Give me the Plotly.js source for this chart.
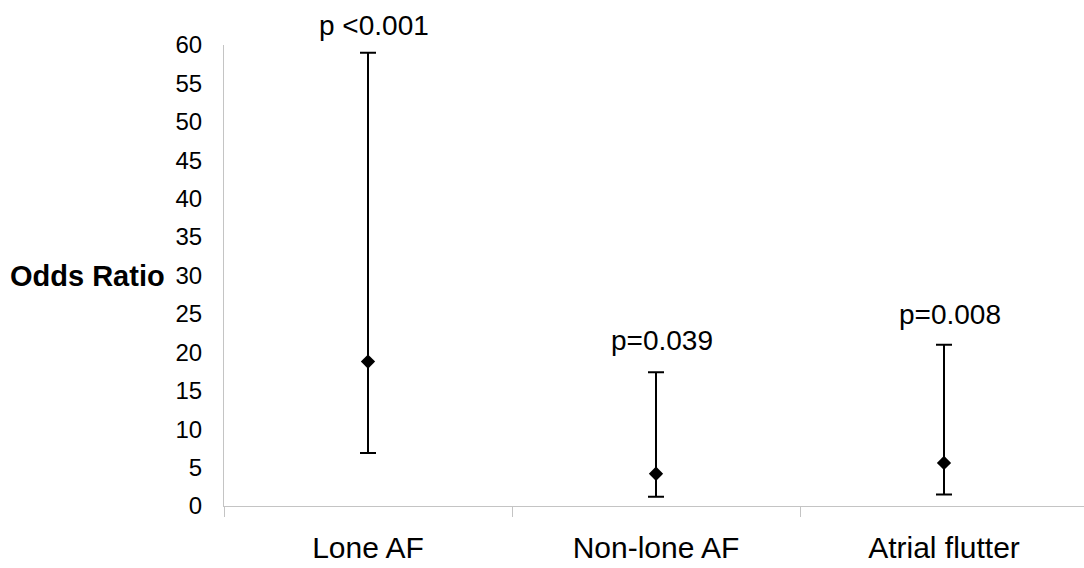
<!DOCTYPE html>
<html>
<head>
<meta charset="utf-8">
<script src="https://cdn.plot.ly/plotly-3.0.1.min.js"></script>
<style>html,body{margin:0;padding:0;background:#fff;}#chart{width:1084px;height:568px;}</style>
</head>
<body>
<div id="chart"></div>
<script>
const categories = ["Lone AF", "Non-lone AF", "Atrial flutter"];
const oddsRatio = [18.8, 4.2, 5.6];
const ciUpper = [59.0, 17.4, 21.0];
const ciLower = [6.9, 1.2, 1.5];
const pLabels = ["p <0.001", "p=0.039", "p=0.008"];
const pLabelY = [62.6, 21.6, 24.9];
const yTicks = [0, 5, 10, 15, 20, 25, 30, 35, 40, 45, 50, 55, 60];
const yRange = [0, 60];

const font = "Liberation Sans, Arial, sans-serif";
const axisGrey = "#c4c4c4";

const trace = {
  type: "scatter",
  mode: "markers",
  x: categories,
  y: oddsRatio,
  marker: {symbol: "diamond", size: 11, color: "#000"},
  error_y: {
    type: "data",
    symmetric: false,
    array: oddsRatio.map((v, i) => ciUpper[i] - v),
    arrayminus: oddsRatio.map((v, i) => v - ciLower[i]),
    color: "#000",
    thickness: 2,
    width: 8
  },
  cliponaxis: false,
  hoverinfo: "skip"
};

// p-value labels: x in category coords, y expressed in y-domain fraction so that
// the top label above the axis range is not hidden.
const annotations = categories.map((c, i) => ({
  x: c, xref: "x",
  y: (pLabelY[i] - yRange[0]) / (yRange[1] - yRange[0]), yref: "y domain",
  text: pLabels[i], showarrow: false, xshift: 6,
  xanchor: "center", yanchor: "middle",
  font: {family: font, size: 28, color: "#000"}
}));
annotations.push({
  xref: "paper", yref: "y", x: 0, y: 30, xshift: -57,
  xanchor: "right", yanchor: "middle",
  text: "<b>Odds Ratio</b>", showarrow: false,
  font: {family: font, size: 29, color: "#000"}
});

const layout = {
  width: 1084, height: 568,
  margin: {l: 224, r: 0, t: 45, b: 62},
  paper_bgcolor: "#fff", plot_bgcolor: "#fff",
  showlegend: false,
  font: {family: font, color: "#000"},
  xaxis: {
    type: "category",
    range: [-0.5, -0.5 + 860 / 288],
    showline: true, linecolor: axisGrey, linewidth: 1,
    showgrid: false, zeroline: false,
    ticks: "outside", tickson: "boundaries", ticklen: 10, tickcolor: axisGrey, tickwidth: 1,
    tickfont: {family: font, size: 30, color: "#000"},
    ticklabelstandoff: 15
  },
  yaxis: {
    range: yRange,
    tickvals: yTicks,
    ticktext: yTicks.map(String),
    showline: true, linecolor: axisGrey, linewidth: 1,
    showgrid: false, zeroline: false,
    ticks: "",
    tickfont: {family: font, size: 24, color: "#000"},
    ticklabelstandoff: 16
  },
  annotations: annotations
};

Plotly.newPlot("chart", [trace], layout, {displayModeBar: false, staticPlot: true});
</script>
</body>
</html>
